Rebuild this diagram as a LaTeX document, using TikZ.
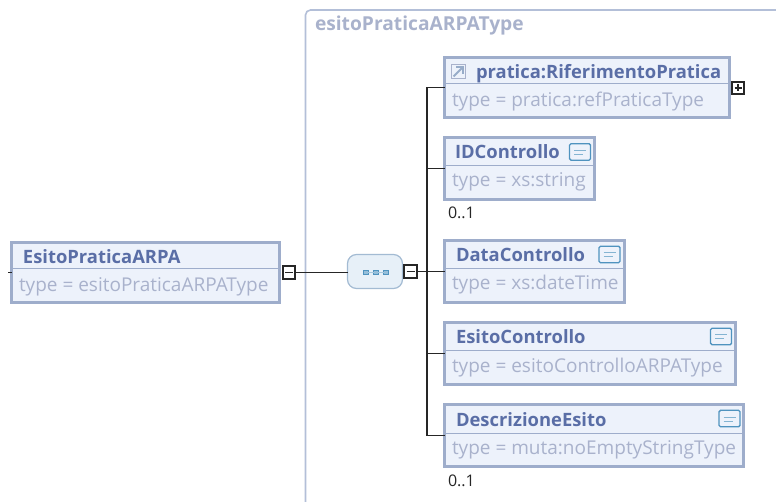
\documentclass[tikz,border=0pt]{standalone}
\usepackage{fontspec}
\setmainfont{Open Sans}
\definecolor{frameBlue}{HTML}{B3BFD8}
\definecolor{boxBlue}{HTML}{9EADCB}
\definecolor{boxFill}{HTML}{EDF2FB}
\definecolor{titleBlue}{HTML}{5A6EA6}
\definecolor{typeGrey}{HTML}{A9B2CC}
\definecolor{iconBlue}{HTML}{4F93BF}
\definecolor{seqFill}{HTML}{E7F0F8}
\definecolor{seqLine}{HTML}{A3BBD3}

\begin{document}
\begin{tikzpicture}
[x=1pt,y=-1pt,every node/.style={inner sep=0pt,outer sep=0pt},%
  elemBox/.style={draw=boxBlue,line width=3pt,fill=boxFill},
  titleText/.style={anchor=base west,font=\fontsize{18.4}{20}\selectfont\bfseries,text=titleBlue},
  typeText/.style={anchor=base west,font=\fontsize{19}{20}\selectfont,text=typeGrey},
  countText/.style={anchor=base west,font=\fontsize{16}{18}\selectfont,text=black!85},
  lineDecorate/.style={-,line width=1.6pt,black!85},
  lineDivider/.style={-,line width=1pt,boxBlue},
  toggleBox/.style={draw=black!85,line width=1.8pt,fill=white,minimum width=12.5pt,minimum height=12.5pt},
  docIcon/.style={draw=iconBlue,line width=1.4pt,fill=boxFill,rounded corners=1.5pt,minimum width=21pt,minimum height=16.5pt},
  seqDot/.style={draw=iconBlue,fill=iconBlue!60,line width=.8pt,minimum width=4.5pt,minimum height=4.5pt}]
\useasboundingbox (0,0) rectangle (776,502);
\draw[frameBlue,line width=1.6pt,rounded corners=5pt] (305.5,502) -- (305.5,10) -- (776,10);
\node[anchor=base west,font=\fontsize{19.2}{20}\selectfont\bfseries,text=typeGrey] (typeName) at (315,31) {esitoPraticaARPAType};
% element boxes
\foreach \elemName/\leftX/\rightX/\topY/\bottomY/\divY/\titleX/\elemTitle/\elemType in {
  root/10/281/241/304/269/23/EsitoPraticaARPA/esitoPraticaARPAType,
  pratica/443/731/56/119/84/476/pratica:RiferimentoPratica/pratica:refPraticaType,
  idControllo/443/596/136/201/166/455/IDControllo/xs:string,
  dataControllo/443/626/239/304/269/456/DataControllo/xs:dateTime,
  esitoControllo/443/737/321/386/351/456/EsitoControllo/esitoControlloARPAType,
  descrizione/443/745/403/468/433/456/DescrizioneEsito/muta:noEmptyStringType}
{
  \node[elemBox,minimum width={(\rightX-\leftX-3)*1pt},minimum height={(\bottomY-\topY-3)*1pt}]
    (\elemName) at ({(\leftX+\rightX)/2},{(\topY+\bottomY)/2}) {};
  \draw[lineDivider] (\leftX+3,\divY) -- (\rightX-3,\divY);
  \node[titleText] (\elemName Title) at (\titleX,\topY+23) {\elemTitle};
  \node[typeText] (\elemName Type) at (\leftX+9,\topY+51) {type = \elemType};
}
% doc icons
\foreach \iconName/\iconX/\iconY in {
  idIcon/580/152, dataIcon/609.5/254.5, esitoIcon/721/336.5, descrIcon/729.5/418.5}
{
  \node[docIcon] (\iconName) at (\iconX,\iconY) {};
  \draw[iconBlue!70,line width=1pt] (\iconX-6,\iconY-1.5) -- (\iconX+6,\iconY-1.5)
    (\iconX-6,\iconY+2.5) -- (\iconX+3,\iconY+2.5);
}
% reference arrow
\node[draw=typeGrey,line width=1.2pt,fill=boxFill,minimum width=13.5pt,minimum height=13.5pt] (linkIcon) at (458.5,71.5) {};
\draw[typeGrey!80!iconBlue,line width=2pt] (453.5,76.5) -- (463,67);
\draw[typeGrey!80!iconBlue,line width=1.4pt] (456,67) -- (463,67) -- (463,74);
% sequence
\node[draw=seqLine,line width=1.2pt,fill=seqFill,rounded corners=9pt,minimum width=55pt,minimum height=34pt] (seqBox) at (375,271.5) {};
\foreach \dotName/\dotX in {seqA/366, seqB/376, seqC/386}
{
  \node[seqDot] (\dotName) at (\dotX,272.5) {};
}
\draw[iconBlue!50,line width=.8pt] (seqA) -- (seqB) (seqB) -- (seqC);
% connectors
\coordinate (rootIn) at (8,272.5);
\coordinate (trunk) at (427,272);
\node[toggleBox] (rootMinus) at (289,272.5) {};
\node[toggleBox] (seqMinus) at (410.5,271.5) {};
\node[toggleBox] (praticaPlus) at (738,88) {};
\draw[black!85,line width=1.3pt] (285,272.5) -- (293,272.5) (406.5,271.5) -- (414.5,271.5) (734.5,88) -- (741.5,88) (738,84.5) -- (738,91.5);
\draw[lineDecorate] (rootIn) -- (root.west |- rootIn);
\draw[lineDecorate] (rootMinus.east) -- (seqBox.west |- rootMinus.east);
\draw[lineDecorate] (seqMinus.east) -- (trunk |- seqMinus.east);
\draw[lineDecorate] (trunk |- pratica.west) -- (trunk |- descrizione.west);
\path
\foreach \endNode in {pratica,idControllo,dataControllo,esitoControllo,descrizione}
{
  (trunk |- \endNode.west) edge[lineDecorate] (\endNode.west)
};
% occurrence labels
\node[countText] (idCount) at (448,219) {0..1};
\node[countText] (descrCount) at (448,486) {0..1};
\end{tikzpicture}
\end{document}
